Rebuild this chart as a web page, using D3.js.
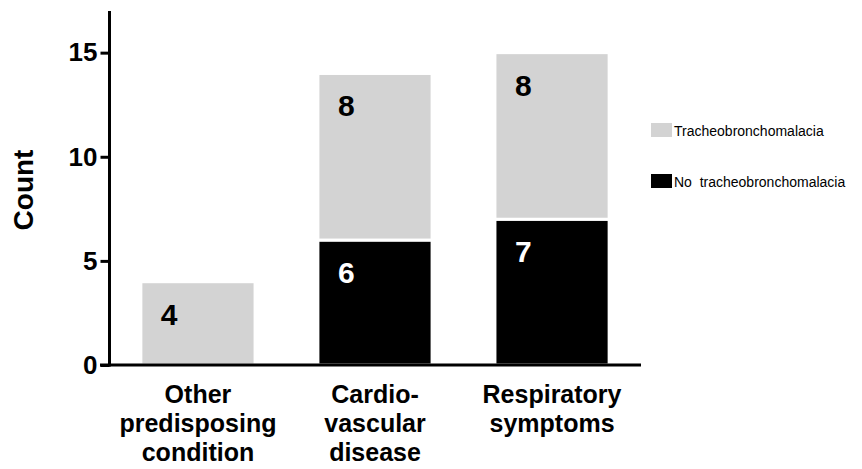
<!DOCTYPE html>
<html>
<head>
<meta charset="utf-8">
<script src="https://cdn.jsdelivr.net/npm/d3@7"></script>
<style>
  html, body { margin: 0; padding: 0; background: #fff; }
  svg { display: block; font-family: "Liberation Sans", Arial, sans-serif; }
</style>
</head>
<body>
<svg id="chart" width="862" height="469"></svg>
<script>
const categories = ["Other predisposing condition", "Cardio-vascular disease", "Respiratory symptoms"];
const categoryLines = [["Other", "predisposing", "condition"], ["Cardio-", "vascular", "disease"], ["Respiratory", "symptoms"]];
const noTracheo = [0, 6, 7];
const tracheo = [4, 8, 8];
const seriesNames = ["Tracheobronchomalacia", "No  tracheobronchomalacia"];
const seriesColors = ["#d3d3d3", "#000000"];
const yTicks = [0, 5, 10, 15];
const yTitle = "Count";

const svg = d3.select("#chart");

const x = d3.scaleBand().domain(categories).range([109, 641]).paddingInner(0.355).paddingOuter(0.18);
const y = d3.scaleLinear().domain([0, 17]).range([365, 11]);

// Build stacked data
const rows = categories.map((c, i) => ({ cat: c, no: noTracheo[i], yes: tracheo[i] }));
const stack = d3.stack().keys(["no", "yes"])(rows);
const fills = { no: seriesColors[1], yes: seriesColors[0] };
const textFills = { no: "#fff", yes: "#000" };

const g = svg.append("g");
stack.forEach(layer => {
  g.selectAll(null).data(layer.filter(d => d[1] - d[0] > 0)).enter().append("rect")
    .attr("x", d => x(d.data.cat))
    .attr("width", x.bandwidth())
    .attr("y", d => y(d[1]))
    .attr("height", d => y(d[0]) - y(d[1]))
    .attr("fill", fills[layer.key])
    .attr("stroke", "#fff")
    .attr("stroke-width", 3);
  g.selectAll(null).data(layer.filter(d => d[1] - d[0] > 0)).enter().append("text")
    .attr("x", d => x(d.data.cat) + 20)
    .attr("y", d => y(d[1]) + 43)
    .attr("fill", textFills[layer.key])
    .attr("font-size", 30)
    .attr("font-weight", "bold")
    .text(d => d[1] - d[0]);
});

// Y axis
const yAxis = d3.axisLeft(y).tickValues(yTicks).tickSize(9).tickPadding(3).tickFormat(d3.format("d"));
const ya = svg.append("g").attr("transform", "translate(109.5,0)").call(yAxis);
ya.select(".domain").attr("stroke", "#000").attr("stroke-width", 3).attr("d", `M0,${y(17)}V${y(0) + 1.5}`);
ya.selectAll(".tick line").attr("stroke", "#000").attr("stroke-width", 3);
ya.selectAll(".tick text").attr("font-size", 26).attr("font-weight", "bold").attr("fill", "#000")
  .attr("font-family", "'Liberation Sans', Arial, sans-serif");

// X axis
const xAxis = d3.axisBottom(x).tickSize(0).tickFormat("");
const xa = svg.append("g").attr("transform", `translate(0,${y(0)})`).call(xAxis);
xa.select(".domain").attr("stroke", "#000").attr("stroke-width", 3).attr("d", `M100,0H641`);

// X labels
categories.forEach((c, i) => {
  const t = svg.append("text")
    .attr("x", x(c) + x.bandwidth() / 2)
    .attr("y", 403)
    .attr("text-anchor", "middle")
    .attr("font-size", 25)
    .attr("font-weight", "bold")
    .attr("fill", "#000");
  categoryLines[i].forEach((line, j) => {
    t.append("tspan").attr("x", x(c) + x.bandwidth() / 2).attr("dy", j === 0 ? 0 : 29).text(line);
  });
});

// Y title
svg.append("text")
  .attr("transform", "translate(33,190) rotate(-90)")
  .attr("text-anchor", "middle")
  .attr("font-size", 28)
  .attr("font-weight", "bold")
  .attr("fill", "#000")
  .text(yTitle);

// Legend
const legendY = [123, 174];
seriesNames.forEach((name, i) => {
  svg.append("rect").attr("x", 651).attr("y", legendY[i]).attr("width", 21).attr("height", 14).attr("fill", seriesColors[i]);
  svg.append("text").attr("x", 674).attr("y", legendY[i] + 13)
    .attr("font-size", 14).attr("fill", "#000")
    .style("white-space", "pre")
    .text(name);
});
</script>
</body>
</html>
